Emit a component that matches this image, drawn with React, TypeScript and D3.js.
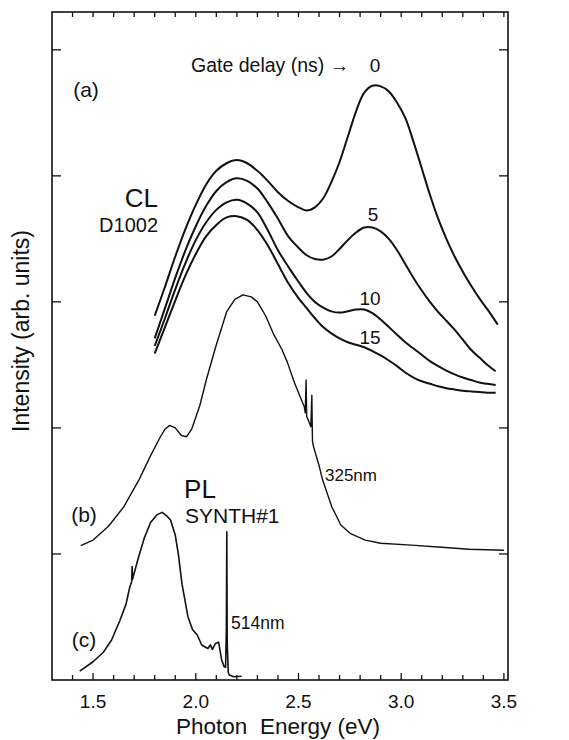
import React from "react";
import * as d3 from "d3";

// ---- data (Photon energy in eV, intensity in arbitrary units) ----
const cl0: [number, number][] = [
  [1.80, 2.89], [1.85, 3.12], [1.90, 3.36], [1.95, 3.58], [2.00, 3.77], [2.05, 3.93], [2.10, 4.04],
  [2.15, 4.10], [2.20, 4.125], [2.25, 4.10], [2.30, 4.04], [2.35, 3.96], [2.40, 3.87], [2.45, 3.80],
  [2.50, 3.75], [2.54, 3.725], [2.58, 3.75], [2.62, 3.82], [2.66, 3.95], [2.70, 4.11], [2.74, 4.31],
  [2.78, 4.51], [2.82, 4.66], [2.86, 4.715], [2.90, 4.71], [2.94, 4.67], [2.98, 4.58], [3.02, 4.46],
  [3.06, 4.27], [3.10, 4.06], [3.14, 3.85], [3.18, 3.66], [3.22, 3.50], [3.26, 3.36], [3.30, 3.24],
  [3.34, 3.13], [3.38, 3.03], [3.42, 2.94], [3.47, 2.82],
];
const cl5: [number, number][] = [
  [1.80, 2.71], [1.85, 2.95], [1.90, 3.19], [1.95, 3.41], [2.00, 3.60], [2.05, 3.76], [2.10, 3.88],
  [2.15, 3.95], [2.20, 3.98], [2.25, 3.96], [2.30, 3.90], [2.35, 3.79], [2.40, 3.66], [2.45, 3.52],
  [2.50, 3.43], [2.54, 3.37], [2.58, 3.34], [2.62, 3.335], [2.66, 3.36], [2.70, 3.42], [2.74, 3.49],
  [2.78, 3.55], [2.82, 3.59], [2.86, 3.59], [2.90, 3.56], [2.94, 3.50], [2.98, 3.41], [3.02, 3.30],
  [3.06, 3.19], [3.10, 3.09], [3.14, 3.00], [3.18, 2.92], [3.22, 2.85], [3.26, 2.78], [3.30, 2.70],
  [3.34, 2.62], [3.38, 2.56], [3.42, 2.50], [3.46, 2.45],
];
const cl10: [number, number][] = [
  [1.80, 2.65], [1.85, 2.87], [1.90, 3.10], [1.95, 3.31], [2.00, 3.49], [2.05, 3.63], [2.10, 3.73],
  [2.15, 3.79], [2.20, 3.81], [2.25, 3.78], [2.30, 3.71], [2.35, 3.57], [2.40, 3.41], [2.45, 3.28],
  [2.50, 3.16], [2.54, 3.07], [2.58, 3.00], [2.62, 2.955], [2.66, 2.925], [2.70, 2.915], [2.74, 2.925],
  [2.78, 2.94], [2.82, 2.94], [2.86, 2.91], [2.90, 2.86], [2.94, 2.80], [2.98, 2.74], [3.02, 2.68],
  [3.06, 2.63], [3.10, 2.58], [3.14, 2.53], [3.18, 2.49], [3.22, 2.455], [3.26, 2.425], [3.30, 2.40],
  [3.34, 2.38], [3.38, 2.36], [3.42, 2.35], [3.46, 2.34],
];
const cl15: [number, number][] = [
  [1.80, 2.59], [1.85, 2.80], [1.90, 3.01], [1.95, 3.21], [2.00, 3.38], [2.05, 3.52], [2.10, 3.61],
  [2.15, 3.67], [2.20, 3.68], [2.25, 3.65], [2.30, 3.57], [2.35, 3.45], [2.40, 3.30], [2.45, 3.15],
  [2.50, 3.03], [2.54, 2.95], [2.58, 2.87], [2.62, 2.80], [2.66, 2.75], [2.70, 2.71], [2.74, 2.68],
  [2.78, 2.66], [2.82, 2.64], [2.86, 2.61], [2.90, 2.575], [2.94, 2.535], [2.98, 2.49], [3.02, 2.44],
  [3.06, 2.40], [3.10, 2.37], [3.14, 2.35], [3.18, 2.33], [3.22, 2.315], [3.26, 2.305], [3.30, 2.295],
  [3.34, 2.29], [3.38, 2.285], [3.42, 2.28], [3.46, 2.28],
];
const pl325: [number, number][] = [
  [1.44, 1.066], [1.50, 1.11], [1.575, 1.22], [1.65, 1.375], [1.724, 1.59], [1.78, 1.78], [1.828, 1.93],
  [1.85, 1.99], [1.873, 2.02], [1.90, 2.00], [1.93, 1.94], [1.955, 1.93], [1.98, 1.99], [2.02, 2.18],
  [2.051, 2.38], [2.10, 2.66], [2.15, 2.92], [2.19, 3.02], [2.23, 3.056], [2.27, 3.04], [2.30, 3.00],
  [2.34, 2.89], [2.38, 2.74], [2.42, 2.62], [2.446, 2.52], [2.48, 2.36], [2.52, 2.20], [2.528, 2.17],
  [2.533, 2.12], [2.537, 2.38], [2.540, 2.09], [2.548, 2.06], [2.560, 2.01], [2.565, 2.26], [2.568, 1.90],
  [2.572, 1.86], [2.602, 1.69], [2.617, 1.59], [2.662, 1.375], [2.706, 1.23], [2.751, 1.164],
  [2.825, 1.11], [2.90, 1.085], [3.049, 1.07], [3.197, 1.053], [3.331, 1.037], [3.50, 1.03],
];
const pl514: [number, number][] = [
  [1.435, 0.07], [1.50, 0.145], [1.55, 0.22], [1.59, 0.317], [1.63, 0.47], [1.66, 0.60], [1.679, 0.74],
  [1.688, 0.78], [1.690, 0.90], [1.692, 0.80], [1.717, 0.95], [1.75, 1.13], [1.78, 1.25], [1.81, 1.31],
  [1.836, 1.33], [1.86, 1.30], [1.877, 1.27], [1.90, 1.15], [1.915, 1.00], [1.933, 0.76], [1.962, 0.50],
  [1.984, 0.40], [2.007, 0.357], [2.029, 0.278], [2.059, 0.25], [2.071, 0.278], [2.081, 0.243],
  [2.096, 0.29], [2.111, 0.30], [2.126, 0.159], [2.138, 0.106], [2.145, 0.10], [2.149, 0.40],
  [2.151, 1.175], [2.153, 0.30], [2.158, 0.06], [2.163, 0.04], [2.185, 0.026], [2.223, 0.03],
];

const xMajorTicks = [1.5, 2.0, 2.5, 3.0, 3.5];
const xMinorTicks = d3.range(14, 36).map((d) => d / 10);
const yTicks = [1, 2, 3, 4, 5];
const delayLabels = ["0", "5", "10", "15"];

const FONT = "'Liberation Sans', Arial, Helvetica, sans-serif";

export default function App() {
  const W = 569, H = 740;
  const left = 52, right = 508, top = 12, bottom = 680;
  const x = d3.scaleLinear().domain([1.3, 3.52]).range([left, right]);
  const y = d3.scaleLinear().domain([0, 5.3]).range([bottom, top]);

  const smooth = d3.line<[number, number]>().x((d) => x(d[0])).y((d) => y(d[1])).curve(d3.curveCatmullRom.alpha(0.5));
  const lin = d3.line<[number, number]>().x((d) => x(d[0])).y((d) => y(d[1]));

  const ink = "#111";
  return (
    <svg width={W} height={H} style={{ position: "absolute", left: 0, top: 0, background: "#fff" }} fontFamily={FONT}>
      {/* frame */}
      <rect x={left} y={top} width={right - left} height={bottom - top} fill="none" stroke={ink} strokeWidth={1.6} />
      {/* x ticks (bottom & top) */}
      {xMinorTicks.map((t) => {
        const major = xMajorTicks.some((m) => Math.abs(m - t) < 1e-6);
        const len = major ? 7 : 5;
        return (
          <g key={"xt" + t}>
            <line x1={x(t)} x2={x(t)} y1={bottom} y2={bottom - len} stroke={ink} strokeWidth={1.3} />
            <line x1={x(t)} x2={x(t)} y1={top} y2={top + 5} stroke={ink} strokeWidth={1.3} />
          </g>
        );
      })}
      {/* y ticks (left & right) */}
      {yTicks.map((t) => (
        <g key={"yt" + t}>
          <line x1={left} x2={left + 9} y1={y(t)} y2={y(t)} stroke={ink} strokeWidth={1.3} />
          <line x1={right} x2={right - 9} y1={y(t)} y2={y(t)} stroke={ink} strokeWidth={1.3} />
        </g>
      ))}
      {/* x tick labels */}
      {xMajorTicks.map((t) => (
        <text key={"xl" + t} x={x(t)} y={708} textAnchor="middle" fontSize={19} fill={ink}>
          {d3.format(".1f")(t)}
        </text>
      ))}
      {/* axis titles */}
      <text x={278} y={734} textAnchor="middle" fontSize={22.5} fill={ink}>
        {"Photon\u00a0 Energy (eV)"}
      </text>
      <text transform="translate(29,331) rotate(-90)" textAnchor="middle" fontSize={23} fill={ink}>
        Intensity (arb. units)
      </text>

      {/* curves */}
      {[cl0, cl5, cl10, cl15].map((c, i) => (
        <path key={"cl" + i} d={smooth(c) || ""} fill="none" stroke={ink} strokeWidth={2} strokeLinejoin="round" />
      ))}
      <path d={lin(pl325) || ""} fill="none" stroke={ink} strokeWidth={1.4} strokeLinejoin="round" />
      <path d={lin(pl514) || ""} fill="none" stroke={ink} strokeWidth={1.6} strokeLinejoin="round" />

      {/* annotations */}
      <text x={86} y={97} textAnchor="middle" fontSize={21} fill={ink}>(a)</text>
      <text x={84} y={522} textAnchor="middle" fontSize={21} fill={ink}>(b)</text>
      <text x={84} y={647} textAnchor="middle" fontSize={21} fill={ink}>(c)</text>
      <text x={191} y={72} fontSize={19.5} fill={ink}>Gate delay (ns) →</text>
      <text x={375} y={72} textAnchor="middle" fontSize={19} fill={ink}>{delayLabels[0]}</text>
      <text x={373} y={221} textAnchor="middle" fontSize={19} fill={ink}>{delayLabels[1]}</text>
      <text x={370} y={305} textAnchor="middle" fontSize={19} fill={ink}>{delayLabels[2]}</text>
      <text x={370} y={344} textAnchor="middle" fontSize={19} fill={ink}>{delayLabels[3]}</text>
      <text x={158} y={207} textAnchor="end" fontSize={26} fill={ink}>CL</text>
      <text x={158} y={232} textAnchor="end" fontSize={20} fill={ink}>D1002</text>
      <text x={200} y={498} textAnchor="middle" fontSize={26} fill={ink}>PL</text>
      <text x={185} y={523} fontSize={21} fill={ink}>SYNTH#1</text>
      <text x={325} y={481} fontSize={17} fill={ink}>325nm</text>
      <text x={231} y={629} fontSize={17.5} fill={ink}>514nm</text>
    </svg>
  );
}
